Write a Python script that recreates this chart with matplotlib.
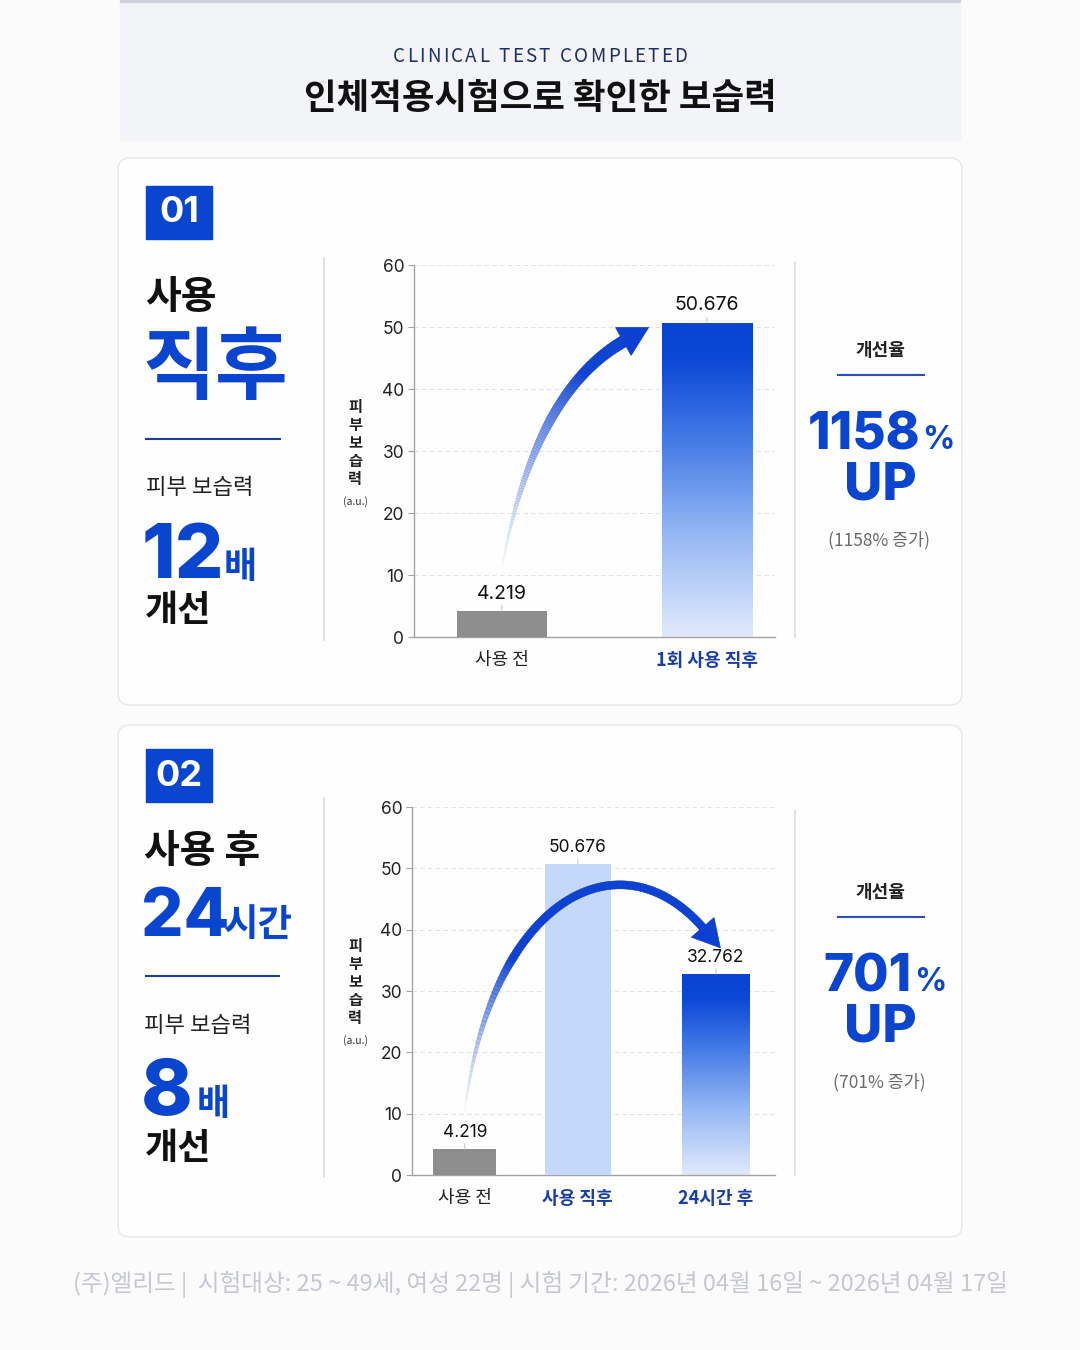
import numpy as np
import matplotlib
matplotlib.use('Agg')
import matplotlib.pyplot as plt
from matplotlib.patches import FancyBboxPatch, Rectangle, Polygon
from matplotlib.collections import PolyCollection
from matplotlib.colors import LinearSegmentedColormap, to_rgba
from math import comb

plt.rcParams['font.family'] = ['Noto Sans CJK KR', 'DejaVu Sans']
KR = ['Noto Sans CJK KR', 'DejaVu Sans']
NUM = ['Inter', 'Noto Sans CJK KR', 'DejaVu Sans']

# ---- data ----
labels_1 = ['사용 전', '1회 사용 직후']
values_1 = [4.219, 50.676]
labels_2 = ['사용 전', '사용 직후', '24시간 후']
values_2 = [4.219, 50.676, 32.762]
rate_1 = 1158
rate_2 = 701
times_1 = 12
times_2 = 8
y_ticks = [0, 10, 20, 30, 40, 50, 60]
footer = '(주)엘리드 |  시험대상: 25 ~ 49세, 여성 22명 | 시험 기간: 2026년 04월 16일 ~ 2026년 04월 17일'

BLUE = '#0a45cf'
NAVY = '#1a3ea8'
W, H = 1080, 1350

fig = plt.figure(figsize=(W / 100, H / 100), dpi=100, facecolor='white')
bg = fig.add_axes([0, 0, 1, 1])
bg.set_xlim(0, W)
bg.set_ylim(H, 0)
bg.axis('off')
renderer = fig.canvas.get_renderer()


def T(x, y, s, size, color='#111', weight='normal', ha='left', va='center', family=KR, **kw):
    return bg.text(x, y, s, fontsize=size, color=color, fontweight=weight,
                   ha=ha, va=va, family=family, **kw)


def spaced(xc, y, s, size, gap, **kw):
    # text with extra letter spacing, centred on xc
    widths = []
    for ch in s:
        if ch == ' ':
            widths.append(size * 1.389 * 0.26)
            continue
        t = T(0, 0, ch, size, **kw)
        widths.append(t.get_window_extent(renderer).width)
        t.remove()
    x = xc - (sum(widths) + gap * (len(s) - 1)) / 2
    for ch, w in zip(s, widths):
        if ch != ' ':
            T(x, y, ch, size, **kw)
        x += w + gap


def px_axes(l, t, r, b):
    return fig.add_axes([l / W, 1 - b / H, (r - l) / W, (b - t) / H])


# ---- background, header, cards ----
bg.add_patch(Rectangle((0, 0), W, H, color='#fbfbfc', zorder=0))
bg.add_patch(Rectangle((120, 0), 840, 140, color='#f3f4f7', zorder=0))
bg.add_patch(Rectangle((120, 0), 840, 2, color='#cfd2d8', zorder=1))
for top, bot in [(158, 705), (725, 1237)]:
    bg.add_patch(FancyBboxPatch((118, top), 844, bot - top,
                                boxstyle='round,pad=0,rounding_size=12',
                                fc='#fefefe', ec='#e8eaee', lw=1.2, zorder=1))

spaced(540, 56, 'CLINICAL TEST COMPLETED', 13.5, 2.3, color='#1c2f66', weight='medium')
T(540, 99, '인체적용시험으로 확인한 보습력', 25.5, color='#111', weight='bold', ha='center')
T(540, 1284, footer, 17, color='#c5c8cf', ha='center')


# ---- left and right text blocks ----
def badge(y, s):
    bg.add_patch(Rectangle((146, y), 66, 53, color=BLUE, zorder=2))
    T(179, y + 27, s, 26, color='white', weight='bold', ha='center', family=NUM)


badge(186, '01')
T(145, 298, '사용', 28, weight='bold')
T(143, 369, '직후', 57, color=BLUE, weight='bold')
bg.plot([146, 280], [439, 439], color='#1d3f99', lw=1.5)
T(146, 488, '피부 보습력', 16, color='#222', weight='medium')
T(142, 578, f'{times_1}', 55, color=BLUE, weight='heavy', va='baseline', family=NUM)
T(224, 578, '배', 26, color=BLUE, weight='bold', va='baseline')
T(145, 611, '개선', 26, weight='bold')

badge(749, '02')
T(144, 852, '사용 후', 28, weight='bold')
T(141, 936, '24', 48, color=BLUE, weight='heavy', va='baseline', family=NUM)
T(224, 936, '시간', 27, color=BLUE, weight='bold', va='baseline')
bg.plot([146, 279], [976, 976], color='#1d3f99', lw=1.5)
T(144, 1026, '피부 보습력', 16, color='#222', weight='medium')
T(141, 1115, f'{times_2}', 56, color=BLUE, weight='heavy', va='baseline', family=NUM)
T(197, 1115, '배', 26, color=BLUE, weight='bold', va='baseline')
T(145, 1148, '개선', 26, weight='bold')

for x, y0, y1 in [(324, 258, 640), (795, 262, 637), (324, 798, 1177), (795, 810, 1175)]:
    bg.plot([x, x], [y0, y1], color='#dcdee3', lw=1.2)


def rate_block(yc, rate, num_right):
    T(880, yc, '개선율', 13, color='#222', weight='bold', ha='center')
    bg.plot([838, 924], [yc + 25, yc + 25], color='#2f4fb5', lw=1.5)
    T(num_right, yc + 99, f'{rate}', 37, color=BLUE, weight='heavy', ha='right', va='baseline', family=NUM)
    T(num_right + 2, yc + 99, '%', 23, color=BLUE, weight='bold', va='baseline', family=NUM)
    T(880, yc + 150, 'UP', 38, color=BLUE, weight='heavy', ha='center', va='baseline', family=NUM)
    T(879, yc + 190, f'({rate}% 증가)', 12.5, color='#6b6b6b', ha='center')


rate_block(350, rate_1, 920)
rate_block(892, rate_2, 912)

# vertical y-axis labels, one character per line
for yc in [443, 982]:
    for i, ch in enumerate('피부보습력'):
        T(355, yc - 36 + i * 18, ch, 11, color='#222', weight='bold', ha='center')
    T(355, yc + 59, '(a.u.)', 7.5, color='#333', ha='center')

# ---- charts ----
grad_cmap = LinearSegmentedColormap.from_list(
    'g', [(0, '#e1eafc'), (0.35, '#8fb3f3'), (0.65, '#3f76e6'), (0.88, '#0c48d6'), (1, '#0843d2')])


def gradient_bar(ax, x, h, w):
    bar = ax.bar(x, h, w, color='none', edgecolor='none', zorder=3)[0]
    grad = np.linspace(0, 1, 256).reshape(-1, 1)
    im = ax.imshow(grad, extent=(x - w / 2, x + w / 2, 0, h), origin='lower',
                   aspect='auto', cmap=grad_cmap, zorder=2.5)
    im.set_clip_path(bar)


def setup_chart(ax, xs, labels, colors, weights, xlim):
    ax.set_facecolor('none')
    ax.set_xlim(*xlim)
    ax.set_ylim(0, 60)
    ax.set_yticks(y_ticks)
    ax.set_xticks(xs)
    ax.set_xticklabels(labels, fontsize=13)
    for lab, c, wt in zip(ax.get_xticklabels(), colors, weights):
        lab.set_color(c)
        lab.set_fontweight(wt)
    for lab in ax.get_yticklabels():
        lab.set_family(NUM)
    ax.spines[['top', 'right']].set_visible(False)
    for s in ('left', 'bottom'):
        ax.spines[s].set_color('#a3a3a3')
        ax.spines[s].set_linewidth(1)
    ax.tick_params(axis='y', length=4, color='#a3a3a3', labelsize=12.5, labelcolor='#222', pad=3)
    ax.tick_params(axis='x', length=0, pad=10)
    ax.yaxis.grid(True, color='#e3e3e3', lw=0.8, ls=(0, (4, 3)))
    ax.set_axisbelow(True)


def value_labels(ax, xs, vals, size):
    for x, v in zip(xs, vals):
        ax.annotate(f'{v:.3f}', (x, v), xytext=(0, 6), textcoords='offset points',
                    ha='center', va='bottom', fontsize=size, color='#111', family=NUM,
                    arrowprops=dict(arrowstyle='-', color='#c4c4c4', lw=0.7, shrinkA=0, shrinkB=0),
                    zorder=5)


def swoosh(ax, ctrl, widths, head_len, head_w, fade_end):
    P = ax.transData.transform(np.array(ctrl, dtype=float))
    n = 120
    t = np.linspace(0, 1, n)
    k = len(P) - 1
    B = sum(comb(k, i) * ((1 - t) ** (k - i) * t ** i)[:, None] * P[i] for i in range(k + 1))
    d = np.gradient(B, axis=0)
    d /= np.linalg.norm(d, axis=1)[:, None]
    nrm = np.stack([-d[:, 1], d[:, 0]], axis=1)
    w = np.interp(t, widths[0], widths[1])
    L = B + nrm * w[:, None] / 2
    R = B - nrm * w[:, None] / 2
    inv = ax.transData.inverted()
    Ld, Rd = inv.transform(L), inv.transform(R)
    quads = [[Ld[i], Ld[i + 1], Rd[i + 1], Rd[i]] for i in range(n - 1)]
    c0 = np.array(to_rgba('#dbe6fb'))
    c1 = np.array(to_rgba('#0b40d0'))
    s = np.clip(t[:-1] / fade_end, 0, 1) ** 0.8
    cols = c0[None, :] * (1 - s[:, None]) + c1[None, :] * s[:, None]
    cols[:, 3] = 0.2 + 0.8 * s
    pc = PolyCollection(quads, facecolors=cols, edgecolors=cols, lw=0.4, zorder=6, clip_on=False)
    ax.add_collection(pc)
    tip = B[-1] + d[-1] * head_len
    back = B[-1] - d[-1] * 3
    head = np.array([tip, back + nrm[-1] * head_w / 2, back - nrm[-1] * head_w / 2])
    ax.add_patch(Polygon(inv.transform(head), closed=True, fc='#0b40d0', ec='#0b40d0',
                         lw=0.5, zorder=6, clip_on=False))


# chart 1
ax1 = px_axes(414, 265, 775, 637)
x1 = np.arange(len(values_1))
ax1.bar(x1[0], values_1[0], 0.44, color='#8e8e8e', zorder=3)
gradient_bar(ax1, x1[1], values_1[1], 0.44)
setup_chart(ax1, x1, labels_1, ['#222', NAVY], ['medium', 'bold'], (-0.429, 1.332))
value_labels(ax1, x1, values_1, 14)
swoosh(ax1, [(0.0, values_1[0] + 7), (0.16, 39.8), (0.605, 47.9)],
       ([0, 0.5, 1], [0.6, 9, 12]), 26, 32, 0.75)

# chart 2 (middle bar sits a little left of even spacing in the original)
ax2 = px_axes(412, 807, 775, 1175)
x2 = np.array([0, 0.9, 2.0])
ax2.bar(x2[0], values_2[0], 0.5, color='#8e8e8e', zorder=3)
ax2.bar(x2[1], values_2[1], 0.53, color='#c3d8fa', zorder=3)
gradient_bar(ax2, x2[2], values_2[2], 0.54)
setup_chart(ax2, x2, labels_2, ['#222', NAVY, NAVY], ['medium', 'bold', 'bold'], (-0.42, 2.47))
value_labels(ax2, x2, values_2, 12.5)
swoosh(ax2, [(0.0, values_2[0] + 6), (0.2, 44.9), (1.235, 56.3), (1.91, 40.0)],
       ([0, 0.3, 1], [0.8, 8, 8]), 24, 30, 0.3)

fig.savefig('out.png', dpi=100, facecolor='white')
